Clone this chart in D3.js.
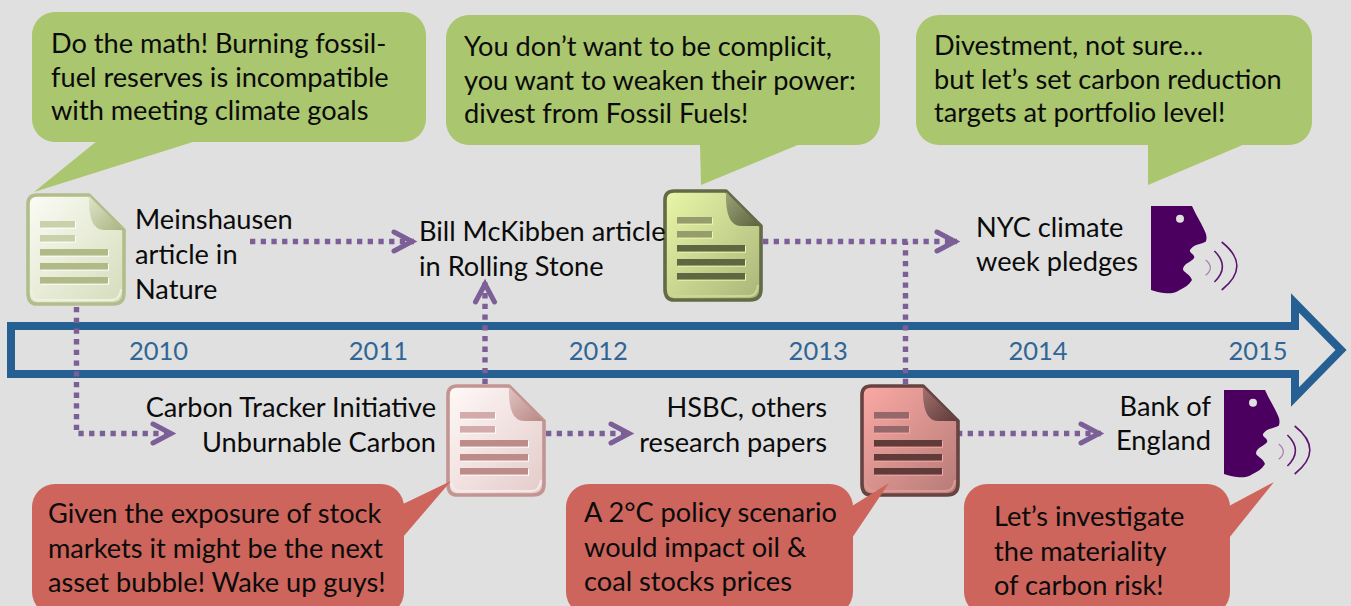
<!DOCTYPE html>
<html>
<head>
<meta charset="utf-8">
<script src="https://d3js.org/d3.v7.min.js"></script>
<style>
  html, body { margin: 0; padding: 0; background: #e0e0e0; overflow: hidden; }
  text { font-family: Lato, "Open Sans", sans-serif; font-size: 27.2px; fill: #0b0b0b; }
  text.year { fill: #2f6696; font-size: 25.5px; }
</style>
</head>
<body>
<div id="chart"></div>
<script>
// timeline content
var years = [2010, 2011, 2012, 2013, 2014, 2015];

var greenBubbles = [
  ["Do the math! Burning fossil-", "fuel reserves is incompatible", "with meeting climate goals"],
  ["You don’t want to be complicit,", "you want to weaken their power:", "divest from Fossil Fuels!"],
  ["Divestment, not sure…", "but let’s set carbon reduction", "targets at portfolio level!"]
];
var redBubbles = [
  ["Given the exposure of stock", "markets it might be the next", "asset bubble! Wake up guys!"],
  ["A 2°C policy scenario", "would impact oil &", "coal stocks prices"],
  ["Let’s investigate", "the materiality", "of carbon risk!"]
];
var topLabels = [
  ["Meinshausen", "article in", "Nature"],
  ["Bill McKibben article", "in Rolling Stone"],
  ["NYC climate", "week pledges"]
];
var bottomLabels = [
  ["Carbon Tracker Initiative", "Unburnable Carbon"],
  ["HSBC, others", "research papers"],
  ["Bank of", "England"]
];

var width = 1351, height = 606;

var svg = d3.select("#chart").append("svg")
  .attr("width", width)
  .attr("height", height)
  .style("display", "block");

var defs = svg.append("defs");

var xYear = d3.scaleLinear().domain([2010, 2015]).range([158.5, 1258]);

// big blue arrow
svg.append("path")
  .attr("d", "M11,326H1295V303L1341,350L1295,397V374H11Z")
  .attr("fill", "none")
  .attr("stroke", "#265f91")
  .attr("stroke-width", 8)
  .attr("stroke-miterlimit", 10);

svg.selectAll(".year")
  .data(years)
  .enter()
  .append("text")
  .attr("class", "year")
  .attr("x", d => xYear(d))
  .attr("y", 360)
  .attr("text-anchor", "middle")
  .text(d => d);

// dotted connectors
var line = d3.line();
function connector(points, head) {
  svg.append("path")
    .attr("d", line(points))
    .attr("fill", "none")
    .attr("stroke", "#7b5f96")
    .attr("stroke-width", 5.4)
    .attr("stroke-dasharray", "5.3 5.4");
  if (!head) return;
  var a = points[points.length - 2], b = points[points.length - 1];
  var ang = Math.atan2(b[1] - a[1], b[0] - a[0]) * 180 / Math.PI;
  svg.append("path")
    .attr("d", "M-20,-9.5L-2,0L-20,9.5")
    .attr("transform", `translate(${b[0]},${b[1]}) rotate(${ang})`)
    .attr("fill", "none")
    .attr("stroke", "#7b5f96")
    .attr("stroke-width", 5)
    .attr("stroke-linecap", "round")
    .attr("stroke-linejoin", "miter");
}

connector([[250, 241.5], [414, 241.5]], true);
connector([[76.5, 307], [76.5, 433.5], [173, 433.5]], true);
connector([[485, 384], [485, 282]], true);
connector([[546, 433.5], [631, 433.5]], true);
connector([[763, 241.5], [957, 241.5]], true);
connector([[905.5, 384], [905.5, 241.5]], false);
connector([[957, 433.5], [1101, 433.5]], true);

// document icon
function gradient(id, c0, c1, x1, y1, x2, y2) {
  var g = defs.append("linearGradient").attr("id", id)
    .attr("x1", x1).attr("y1", y1).attr("x2", x2).attr("y2", y2);
  g.append("stop").attr("offset", "0%").attr("stop-color", c0);
  g.append("stop").attr("offset", "100%").attr("stop-color", c1);
}

function docIcon(id, x, y, pal) {
  gradient(id + "-body", pal.body0, pal.body1, 0, 0, 1, 1);
  gradient(id + "-fold", pal.fold0, pal.fold1, 0, 0, 1, 1);
  var g = svg.append("g").attr("transform", `translate(${x},${y})`);
  var outline = "M11,2H63L98,37V100Q98,111 87,111H11Q2,111 2,100V11Q2,2 11,2Z";
  g.append("path")
    .attr("d", outline)
    .attr("fill", `url(#${id}-body)`)
    .attr("stroke", pal.border)
    .attr("stroke-width", 3.6)
    .attr("stroke-linejoin", "round");
  // pale inner rim along the bottom edge
  g.append("path")
    .attr("d", "M5,96Q6,107 14,107H85Q94,107 95,96")
    .attr("fill", "none")
    .attr("stroke", pal.rim)
    .attr("stroke-width", 2);
  g.append("path")
    .attr("d", "M63,3Q62,37 78,37H97Z")
    .attr("fill", `url(#${id}-fold)`);
  var bars = [[14, 28, 35], [14, 42, 35], [14, 56, 68], [14, 70, 68], [14, 84, 68]];
  g.selectAll(".shine").data(bars).enter().append("rect")
    .attr("x", d => d[0] + 1).attr("y", d => d[1] + 1)
    .attr("width", d => d[2]).attr("height", 6.6)
    .attr("fill", pal.shine);
  g.selectAll(".bar").data(bars).enter().append("rect")
    .attr("x", d => d[0]).attr("y", d => d[1])
    .attr("width", d => d[2]).attr("height", 6.6)
    .attr("fill", (d, i) => i < 2 ? pal.barLight : pal.bar);
}

docIcon("paleGreen", 26, 193, {
  border: "#b1bd8b", body0: "#fbfcf5", body1: "#d5dcbb", rim: "#eef1df",
  fold0: "#dfe4cb", fold1: "#a8b57f", bar: "#b0ba87", barLight: "#c9d1aa", shine: "#ffffff"
});
docIcon("darkGreen", 663, 189, {
  border: "#636a46", body0: "#e9f7a8", body1: "#a9b579", rim: "#cbd894",
  fold0: "#9da276", fold1: "#5c6440", bar: "#5f6742", barLight: "#979c6d", shine: "#eef8b0"
});
docIcon("paleRed", 446, 384, {
  border: "#c29593", body0: "#fff9f8", body1: "#e3cbc9", rim: "#f6e9e8",
  fold0: "#e0c3c1", fold1: "#b98785", bar: "#bd8b88", barLight: "#d3abaa", shine: "#ffffff"
});
docIcon("darkRed", 860, 384, {
  border: "#674341", body0: "#fba9a4", body1: "#b57b77", rim: "#dc9a96",
  fold0: "#a2716e", fold1: "#5d3b39", bar: "#5f3b3a", barLight: "#97686a", shine: "#f8a9a4"
});

// speaking head icon
function speaker(x, y) {
  var g = svg.append("g").attr("transform", `translate(${x},${y})`);
  g.append("path")
    .attr("d", "M0,0H41C46,11 52,20 54.7,27.3C56,31 55.5,34 54.7,35.7C50,38 45,38.5 42,40.7C39,43 38,45 39.7,46.5C42,48.5 44,50 43,52.3C40,56 35,57 32.7,60.7C31.5,63 32,64.5 33.7,65.7C36,68 40,70 41,74C38,79 33,82 28.7,84C24,87 20,87.5 15.3,87.3C9,87 4,85.5 0,84Z")
    .attr("fill", "#4b0060");
  g.append("circle").attr("cx", 29).attr("cy", 12.7).attr("r", 4).attr("fill", "#e0e0e0");
  var arcs = [
    ["M70.7,36Q101,60 70.7,84", 1.6, "#5b1470"],
    ["M63.4,45Q79.4,60.5 63.4,76", 1.6, "#5b1470"],
    ["M54.7,54Q64,61.7 54.7,69.3", 1.2, "#a77fb2"]
  ];
  g.selectAll(".arc").data(arcs).enter().append("path")
    .attr("d", d => d[0])
    .attr("fill", "none")
    .attr("stroke-width", d => d[1])
    .attr("stroke", d => d[2]);
}
speaker(1151, 206);
speaker(1224, 390);

// speech bubbles
function bubble(x, y, w, h, tail, color) {
  var g = svg.append("g").attr("fill", color);
  g.append("rect").attr("x", x).attr("y", y).attr("width", w).attr("height", h).attr("rx", 23);
  g.append("path").attr("d", d3.line()(tail) + "Z");
}

var green = "#aac66e", red = "#cd655c";
bubble(32, 12, 394, 130, [[97, 141], [34, 192], [196, 141]], green);
bubble(446, 15, 434, 130, [[700, 144], [701, 185], [800, 144]], green);
bubble(916, 15, 396, 130, [[1148, 144], [1148, 185], [1245, 144]], green);
bubble(32, 484, 372, 131, [[403, 504], [451, 481], [403, 537]], red);
bubble(566, 484, 287, 131, [[852, 506], [889, 483], [852, 538]], red);
bubble(964, 484, 266, 131, [[1229, 506], [1274, 482], [1229, 538]], red);

// multi line text blocks
function textBlock(lines, x, y, step, anchor) {
  svg.append("g").selectAll("text")
    .data(lines)
    .enter()
    .append("text")
    .attr("x", x)
    .attr("y", (d, i) => y + i * step)
    .attr("text-anchor", anchor || "start")
    .text(d => d);
}

textBlock(greenBubbles[0], 51, 53, 33.7);
textBlock(greenBubbles[1], 464, 56, 33.7);
textBlock(greenBubbles[2], 934, 55, 33.7);
textBlock(redBubbles[0], 48, 523, 34.7);
textBlock(redBubbles[1], 584, 522, 34.7);
textBlock(redBubbles[2], 994, 526, 34.7);
textBlock(topLabels[0], 135, 229, 35);
textBlock(topLabels[1], 419, 241, 35);
textBlock(topLabels[2], 976, 237, 33.5);
textBlock(bottomLabels[0], 436, 417, 35, "end");
textBlock(bottomLabels[1], 827, 417, 35, "end");
textBlock(bottomLabels[2], 1211, 416, 34, "end");
</script>
</body>
</html>
